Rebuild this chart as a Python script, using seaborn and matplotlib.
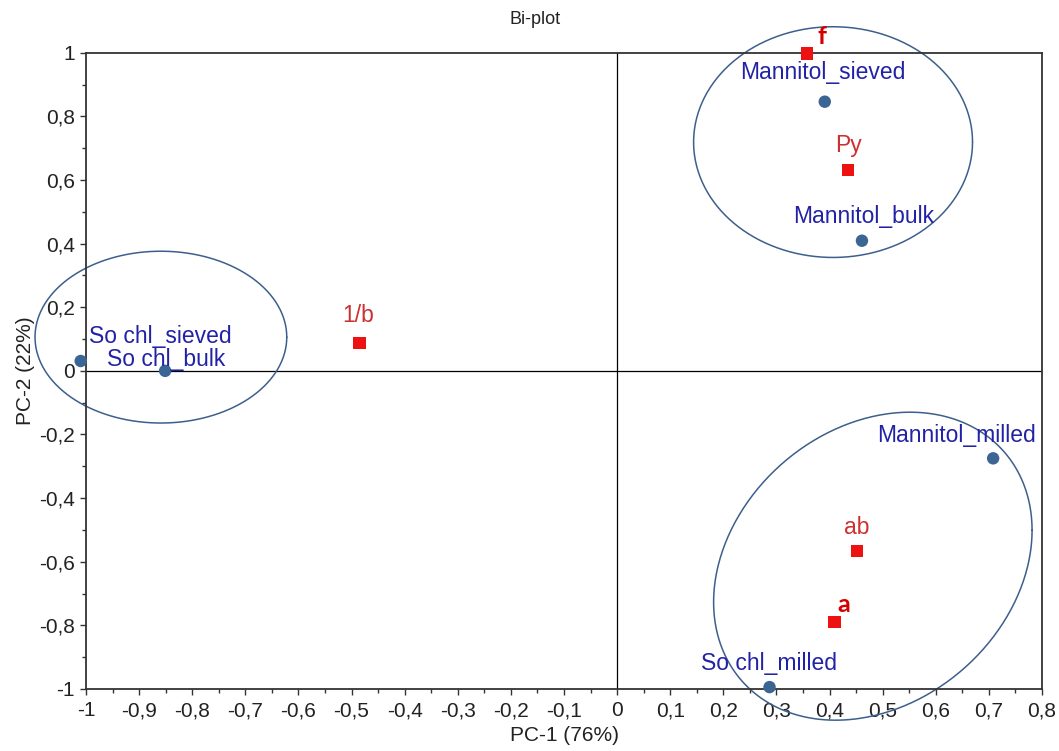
import numpy as np
import pandas as pd
import matplotlib
matplotlib.use("Agg")
import matplotlib.pyplot as plt
from matplotlib.ticker import MultipleLocator, FuncFormatter
import seaborn as sns

# Sample scores (blue circles)
sample_names = ["So chl_sieved", "So chl_bulk", "Mannitol_sieved",
                "Mannitol_bulk", "Mannitol_milled", "So chl_milled"]
sample_pc1 = [-1.01, -0.851, 0.391, 0.461, 0.708, 0.287]
sample_pc2 = [0.031, 0.0, 0.846, 0.409, -0.275, -0.994]
# label offsets in pixels (dx, dy upward)
sample_label_offsets = [(80, 24), (1, 11), (-2, 29), (2, 24), (-37, 23), (-1, 24)]

# Variable loadings (red squares)
var_names = ["f", "Py", "1/b", "ab", "a"]
var_pc1 = [0.357, 0.435, -0.485, 0.452, 0.409]
var_pc2 = [0.998, 0.631, 0.087, -0.567, -0.789]
var_label_offsets = [(15, 17), (0, 25), (-1, 28), (0, 24), (9, 17)]
var_bold = [True, False, False, False, True]

# Group ellipses: centre, half-width, half-height, phase shift (deg)
ellipse_cx = [-0.859, 0.4066, 0.4815]
ellipse_cy = [0.106, 0.719, -0.614]
ellipse_rx = [0.237, 0.2626, 0.2998]
ellipse_ry = [0.27, 0.3626, 0.484]
ellipse_phase = [90.0, 90.0, 76.5]

x_ticks_major = 0.1
y_ticks_major = 0.2

sns.set_style("ticks")
plt.rcParams["font.family"] = ["Liberation Sans", "DejaVu Sans"]

W, H = 1059, 751
fig = plt.figure(figsize=(W / 100, H / 100), dpi=100)
ax = fig.add_axes([86 / W, 1 - 689 / H, (1042 - 86) / W, (689 - 52.7) / H])

samples = pd.DataFrame({"name": sample_names, "pc1": sample_pc1, "pc2": sample_pc2})
variables = pd.DataFrame({"name": var_names, "pc1": var_pc1, "pc2": var_pc2})

# crosshair through origin
ax.axhline(0, color="black", lw=0.9, zorder=1)
ax.axvline(0, color="black", lw=0.9, zorder=1)

# ellipses
t = np.linspace(0, 2 * np.pi, 400)
for cx, cy, rx, ry, ph in zip(ellipse_cx, ellipse_cy, ellipse_rx, ellipse_ry, ellipse_phase):
    ex = cx + rx * np.cos(t)
    ey = cy + ry * np.cos(t - np.deg2rad(ph))
    ax.plot(ex, ey, color="#3d5f8c", lw=1.1, clip_on=False, zorder=2)

sns.scatterplot(data=samples, x="pc1", y="pc2", ax=ax, color="#3b6593",
                s=80, marker="o", edgecolor="none", clip_on=False, zorder=4,
                legend=False)
sns.scatterplot(data=variables, x="pc1", y="pc2", ax=ax, color="#ee1111",
                s=80, marker="s", edgecolor="none", clip_on=False, zorder=4,
                legend=False)

for name, x, y, (dx, dy) in zip(sample_names, sample_pc1, sample_pc2, sample_label_offsets):
    ax.annotate(name, (x, y), xytext=(dx, dy), textcoords="offset pixels",
                ha="center", va="center", color="#2222a6", fontsize=16.5,
                annotation_clip=False, zorder=5)

for name, x, y, (dx, dy), bold in zip(var_names, var_pc1, var_pc2, var_label_offsets, var_bold):
    if bold:
        ax.annotate(name, (x, y), xytext=(dx, dy), textcoords="offset pixels",
                    ha="center", va="center", color="#d40000", fontsize=18,
                    fontweight="bold", family=["Lato", "DejaVu Sans"],
                    annotation_clip=False, zorder=5)
    else:
        ax.annotate(name, (x, y), xytext=(dx, dy), textcoords="offset pixels",
                    ha="center", va="center", color="#cc3030", fontsize=16.5,
                    annotation_clip=False, zorder=5)

ax.set_xlim(-1, 0.8)
ax.set_ylim(-1, 1)
ax.xaxis.set_major_locator(MultipleLocator(x_ticks_major))
ax.xaxis.set_minor_locator(MultipleLocator(x_ticks_major / 2))
ax.yaxis.set_major_locator(MultipleLocator(y_ticks_major))
ax.yaxis.set_minor_locator(MultipleLocator(y_ticks_major / 2))


def comma_fmt(v, _):
    v = round(v, 2)
    if abs(v) < 1e-9:
        return "0"
    return f"{v:g}".replace(".", ",")


ax.xaxis.set_major_formatter(FuncFormatter(comma_fmt))
ax.yaxis.set_major_formatter(FuncFormatter(comma_fmt))
ax.tick_params(which="major", direction="out", length=4, width=1.0,
               labelsize=15, colors="#333333", labelcolor="#222222", pad=4)
ax.tick_params(axis="x", which="major", pad=5)
ax.tick_params(which="minor", direction="out", length=3, width=1.0, colors="#333333")

for sp in ax.spines.values():
    sp.set_visible(True)
    sp.set_color("#333333")
    sp.set_linewidth(1.3)

ax.set_xlabel("PC-1 (76%)", fontsize=15, color="#222222", labelpad=4)
ax.set_ylabel("PC-2 (22%)", fontsize=15, color="#222222", labelpad=3)
fig.text(535 / W, 1 - 20 / H, "Bi-plot", ha="center", va="center",
         fontsize=13, color="#222222")

fig.savefig("out.png", dpi=100, facecolor="white")
